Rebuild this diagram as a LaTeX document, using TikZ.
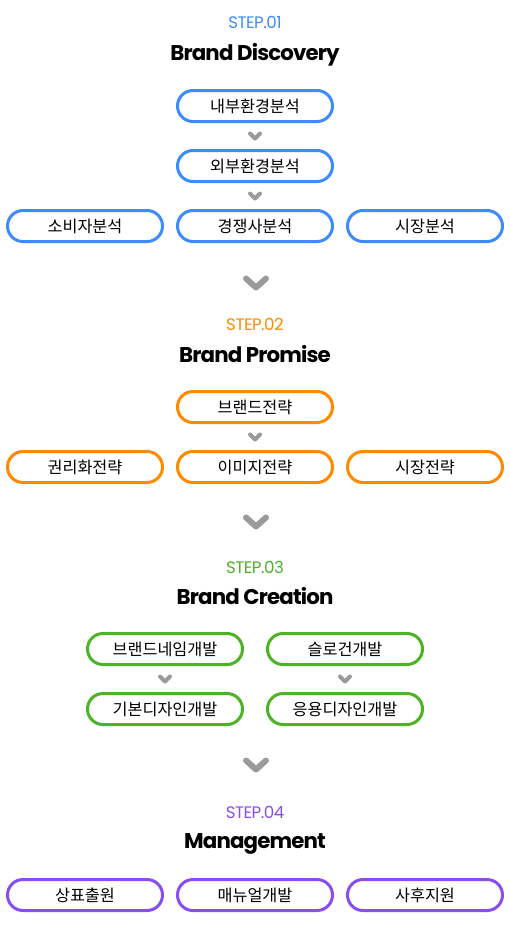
\documentclass[tikz,border=0pt]{standalone}
\usepackage{fontspec}
\usetikzlibrary{positioning}
\newfontfamily\korfont{Noto Sans CJK KR}
\newfontfamily\stepfont[LetterSpace=-3]{Poppins}
\newfontfamily\titlefont[LetterSpace=-4]{Poppins}
\definecolor{colorDiscovery}{HTML}{3D8BFF}
\definecolor{colorPromise}{HTML}{FF8A00}
\definecolor{colorCreation}{HTML}{4BB324}
\definecolor{colorManage}{HTML}{8A4DF2}
\definecolor{colorChevron}{HTML}{9A9A9A}

\tikzset{
	box/.style={draw=#1, line width=2.25pt, rounded corners=11.6pt, minimum width=116.25pt, minimum height=23.25pt, inner sep=0pt, font=\korfont\fontsize{12.2}{13}\selectfont},
	steplabel/.style={text=#1, anchor=base, inner sep=0pt, font=\stepfont\fontsize{12.5}{13}\selectfont},
	titlelabel/.style={anchor=base, inner sep=0pt, font=\titlefont\bfseries\fontsize{16}{18}\selectfont},
	smallchev/.pic={\draw[colorChevron, line width=3pt, line cap=round, line join=round] (-5,-2.5) -- (0,2.5) -- (5,-2.5);},
	bigchev/.pic={\draw[colorChevron, line width=4.5pt, line cap=round, line join=round] (-10,-4.5) -- (0,4.5) -- (10,-4.5);}
}

\begin{document}
\begin{tikzpicture}[x=0.75pt, y=-0.75pt]
	\useasboundingbox (0,0) rectangle (510,926);

	% step 01
	\node[steplabel=colorDiscovery] (s1) at (255,28) {STEP.01};
	\node[titlelabel] (t1) at (255,60) {Brand Discovery};
	\node[box=colorDiscovery] (d1) at (255,106) {내부환경분석};
	\node[box=colorDiscovery] (d2) at (255,166) {외부환경분석};
	\foreach \name/\x/\txt in {d3/85/소비자분석, d4/255/경쟁사분석, d5/425/시장분석}{
		\node[box=colorDiscovery] (\name) at (\x,226) {\txt};
	}
	\path (d1) -- (d2) coordinate[midway] (v1);
	\path (d2) -- (d4) coordinate[midway] (v2);
	\pic at (v1) {smallchev};
	\pic at (v2) {smallchev};

	\pic at (256,283) {bigchev};

	% step 02
	\node[steplabel=colorPromise] (s2) at (255,330) {STEP.02};
	\node[titlelabel] (t2) at (255,362) {Brand Promise};
	\node[box=colorPromise] (p1) at (255,407) {브랜드전략};
	\foreach \name/\x/\txt in {p2/85/권리화전략, p3/255/이미지전략, p4/425/시장전략}{
		\node[box=colorPromise] (\name) at (\x,467) {\txt};
	}
	\path (p1) -- (p3) coordinate[midway] (v3);
	\pic at (v3) {smallchev};

	\pic at (256,522) {bigchev};

	% step 03
	\node[steplabel=colorCreation] (s3) at (255,573) {STEP.03};
	\node[titlelabel] (t3) at (255,604) {Brand Creation};
	\node[box=colorCreation] (c1) at (165,649) {브랜드네임개발};
	\node[box=colorCreation] (c2) at (345,649) {슬로건개발};
	\node[box=colorCreation] (c3) at (165,709) {기본디자인개발};
	\node[box=colorCreation] (c4) at (345,709) {응용디자인개발};
	\path (c1) -- (c3) coordinate[midway] (v4);
	\path (c2) -- (c4) coordinate[midway] (v5);
	\pic at (v4) {smallchev};
	\pic at (v5) {smallchev};

	\pic at (256,765) {bigchev};

	% step 04
	\node[steplabel=colorManage] (s4) at (255,818) {STEP.04};
	\node[titlelabel] (t4) at (255,848) {Management};
	\foreach \name/\x/\txt in {m1/85/상표출원, m2/255/매뉴얼개발, m3/425/사후지원}{
		\node[box=colorManage] (\name) at (\x,895) {\txt};
	}
\end{tikzpicture}
\end{document}
